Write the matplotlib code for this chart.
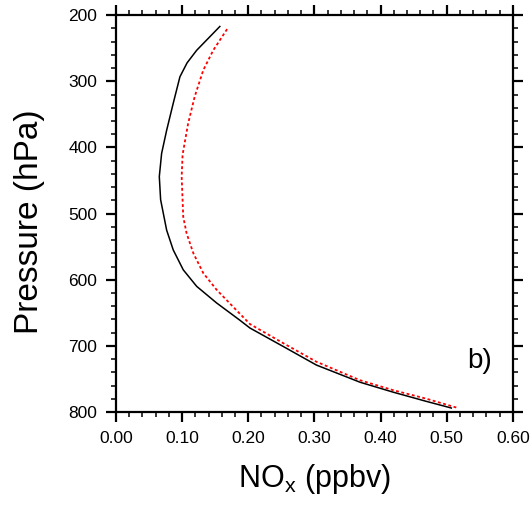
import matplotlib
matplotlib.use("Agg")
import matplotlib.pyplot as plt
from matplotlib.ticker import MultipleLocator

plt.rcParams['font.family'] = ['Liberation Sans', 'DejaVu Sans']

# NOx profile values (pressure in hPa, mixing ratio in ppbv)
p_black = [217, 253, 272, 293, 333, 374, 409, 444, 479, 525, 555, 585, 610,
           635, 661, 673, 701, 729, 755, 770, 784, 794]
nox_black = [0.157, 0.122, 0.1075, 0.0967, 0.0866, 0.0766, 0.069, 0.0655, 0.0675,
             0.0766, 0.0866, 0.1017, 0.122, 0.152, 0.187, 0.2025, 0.253, 0.303,
             0.369, 0.419, 0.4695, 0.507]

p_red = [221, 253, 283, 323, 364, 411, 444, 505, 530, 560, 590, 615, 646, 667,
         696, 724, 752, 767, 780, 794]
nox_red = [0.168, 0.147, 0.132, 0.119, 0.109, 0.1007, 0.0993, 0.1017, 0.1068,
           0.117, 0.132, 0.152, 0.182, 0.2025, 0.253, 0.303, 0.369, 0.419,
           0.4695, 0.517]

x_ticks = [0.0, 0.1, 0.2, 0.3, 0.4, 0.5, 0.6]
x_labels = ["0.00", "0.10", "0.20", "0.30", "0.40", "0.50", "0.60"]
y_ticks = [200, 300, 400, 500, 600, 700, 800]

fig = plt.figure(figsize=(5.32, 5.08), dpi=100)
ax = fig.add_axes([0.218, 0.189, 0.746, 0.781])

ax.plot(nox_black, p_black, color="black", lw=1.1)
ax.plot(nox_red, p_red, color="red", lw=1.3, linestyle=(0, (1.6, 1.4)))

ax.set_xlim(0, 0.6)
ax.set_ylim(800, 200)
ax.set_xticks(x_ticks)
ax.set_xticklabels(x_labels)
ax.set_yticks(y_ticks)
ax.xaxis.set_minor_locator(MultipleLocator(0.02))
ax.yaxis.set_minor_locator(MultipleLocator(20))

for s in ax.spines.values():
    s.set_linewidth(1.6)

ax.tick_params(which="both", direction="out", top=True, right=True,
               labelsize=12.5, pad=6)
ax.tick_params(which="major", length=7.5, width=1.6)
ax.tick_params(which="minor", length=3.8, width=1.1)

ax.set_xlabel(r"NO$_\mathregular{x}$ (ppbv)", fontsize=22, labelpad=12)
ax.set_ylabel("Pressure (hPa)", fontsize=24)
ax.yaxis.set_label_coords(-0.18, 0.48)

ax.text(0.885, 0.095, "b)", transform=ax.transAxes, fontsize=20,
        ha="left", va="bottom")

fig.savefig("out.png", dpi=100)
